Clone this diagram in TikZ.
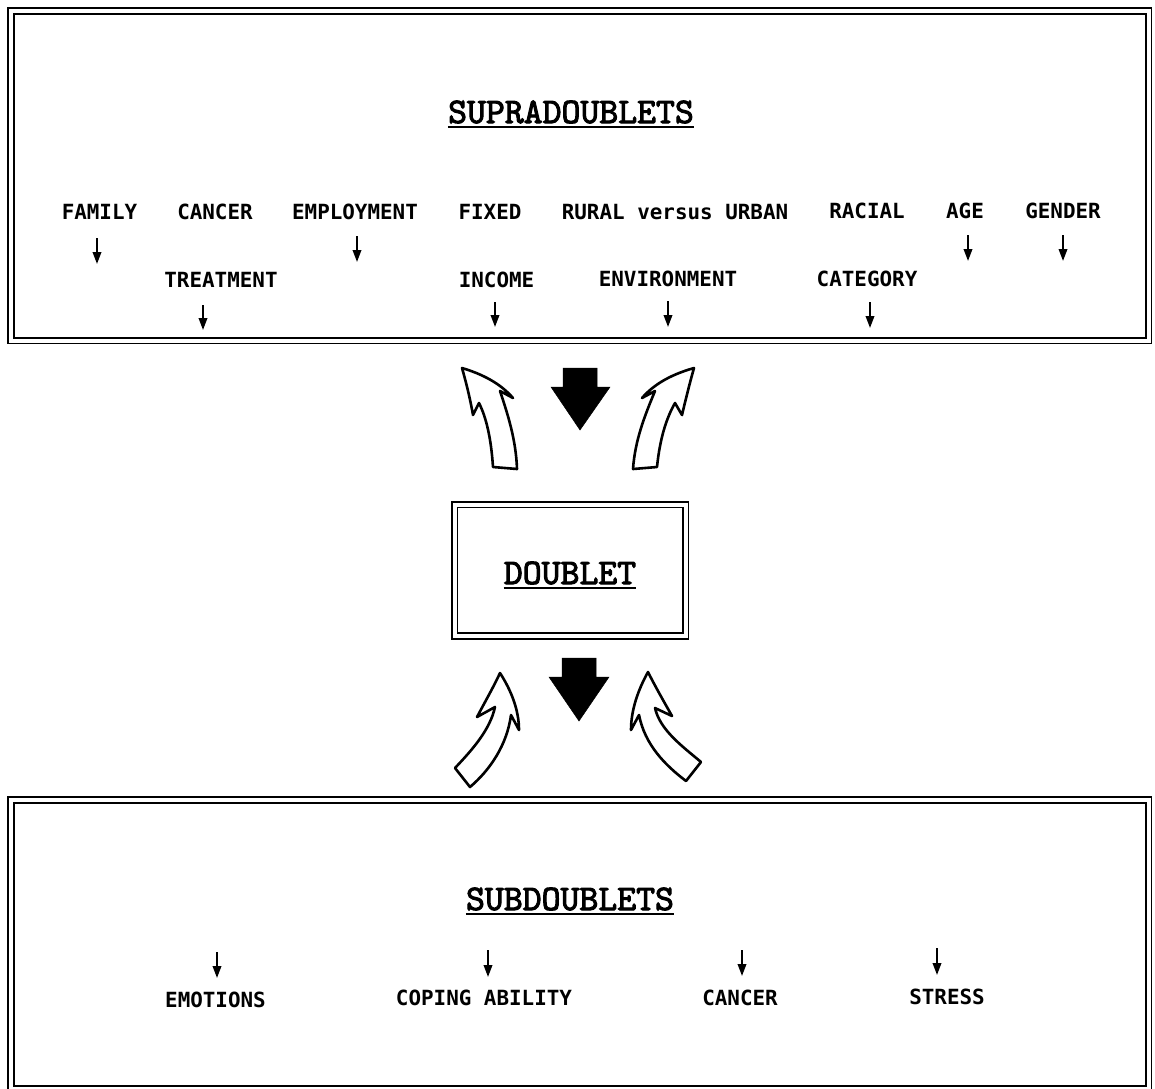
\documentclass[tikz,border=0pt]{standalone}
\usepackage{fontspec}
\usetikzlibrary{arrows.meta}
\newfontfamily\labfont{DejaVu Sans Mono}
\newfontfamily\ttlfont[FakeBold=2.8]{lmmono10-regular.otf}
\tikzset{
  lab/.style={font=\labfont\bfseries\fontsize{20.9}{24}\selectfont, inner sep=0pt},
  ttl/.style={font=\ttlfont\fontsize{36}{40}\selectfont, inner sep=0pt},
  dbox/.style={draw, double, double distance=4pt, line width=1.7pt, inner sep=0pt},
  sarr/.style={line width=2pt, -{Triangle[length=12pt,width=8.5pt]}},
  ul/.style={line width=2.2pt},
  bigarr/.style={fill=black, draw=black, line width=0.5pt, line join=miter},
  hollow/.style={draw=black, fill=white, line width=2.6pt, line join=round}
}
\begin{document}
\begin{tikzpicture}[x=1pt, y=-1pt]
\fill[white] (0,0) rectangle (1155,1088);
\useasboundingbox (0,0) rectangle (1155,1088);

% boxes
\node[dbox, minimum width=1137.5pt, minimum height=329.5pt] (top) at (579.75,175.75) {};
\node[dbox, minimum width=231pt, minimum height=131.5pt] (doublet) at (570,570.25) {};
\node[dbox, minimum width=1137.5pt, minimum height=289pt] (bottom) at (579.75,944.5) {};

% titles
\node[ttl] (supra) at (571,112) {SUPRADOUBLETS};
\draw[ul] ([yshift=-3.5pt]supra.south west) -- ([yshift=-3.5pt]supra.south east);
\node[ttl] (dtext) at (570,573) {DOUBLET};
\draw[ul] ([yshift=-3.5pt]dtext.south west) -- ([yshift=-3.5pt]dtext.south east);
\node[ttl] (sub) at (570,899) {SUBDOUBLETS};
\draw[ul] ([yshift=-3.5pt]sub.south west) -- ([yshift=-3.5pt]sub.south east);

% supradoublet labels
\node[lab] (family)  at (99.5,212) {FAMILY};
\node[lab] (cancerT) at (215,212) {CANCER};
\node[lab] (employ)  at (355,212) {EMPLOYMENT};
\node[lab] (fixed)   at (490,212) {FIXED};
\node[lab] (rural)   at (675,212) {RURAL versus URBAN};
\node[lab] (racial)  at (867,211) {RACIAL};
\node[lab] (age)     at (965,211) {AGE};
\node[lab] (gender)  at (1063,211) {GENDER};
\node[lab] (treat)   at (221,280) {TREATMENT};
\node[lab] (income)  at (496.5,280) {INCOME};
\node[lab] (envir)   at (668,279) {ENVIRONMENT};
\node[lab] (categ)   at (867,279) {CATEGORY};

% subdoublet labels
\node[lab] (emot)    at (215.5,1000) {EMOTIONS};
\node[lab] (coping)  at (484,998) {COPING ABILITY};
\node[lab] (cancerB) at (740,998) {CANCER};
\node[lab] (stress)  at (947,997) {STRESS};

% small arrow end points
\coordinate (fa1) at (97,238);   \coordinate (fa2) at (97,264);
\coordinate (em1) at (357,236);  \coordinate (em2) at (357,262);
\coordinate (tr1) at (203,305);  \coordinate (tr2) at (203,330);
\coordinate (in1) at (495,302);  \coordinate (in2) at (495,327);
\coordinate (en1) at (668,301);  \coordinate (en2) at (668,327);
\coordinate (ca1) at (870,302);  \coordinate (ca2) at (870,328);
\coordinate (ag1) at (968,235);  \coordinate (ag2) at (968,261);
\coordinate (ge1) at (1063,235); \coordinate (ge2) at (1063,261);
\coordinate (eo1) at (217,952);  \coordinate (eo2) at (217,978);
\coordinate (co1) at (488,950);  \coordinate (co2) at (488,977);
\coordinate (cb1) at (742,950);  \coordinate (cb2) at (742,976);
\coordinate (st1) at (937,948);  \coordinate (st2) at (937,975);

\foreach \a in {fa,em,tr,in,en,ca,ag,ge,eo,co,cb,st}
  \draw[sarr] (\a1) -- (\a2);

% big black arrows
\draw[bigarr] (563,368) -- (597,368) -- (597,387) -- (610,387) -- (580,430) -- (551,387) -- (563,387) -- cycle;
\draw[bigarr] (562,658) -- (596,658) -- (596,677) -- (609,677) -- (579,721) -- (549,677) -- (562,677) -- cycle;

% hollow curved arrows (upper pair)
\draw[hollow] (493,467) .. controls (491,437) and (486,417) .. (479,403) -- (473,415)
  .. controls (470,398) and (466,382) .. (462,368)
  .. controls (482,374) and (500,383) .. (513,398) -- (500,391)
  .. controls (508,415) and (516,440) .. (517,469) -- cycle;
\draw[hollow] (657,467) .. controls (660,437) and (667,417) .. (675,403) -- (682,415)
  .. controls (686,398) and (690,382) .. (694,368)
  .. controls (673,374) and (655,383) .. (642,398) -- (655,391)
  .. controls (645,415) and (635,440) .. (633,469) -- cycle;

% hollow curved arrows (lower pair)
\draw[hollow] (455,768) .. controls (472,750) and (490,730) .. (495,707) -- (477,717)
  .. controls (486,700) and (494,686) .. (500,673)
  .. controls (511,690) and (519,710) .. (519,730) -- (511,715)
  .. controls (507,745) and (490,770) .. (470,787) -- cycle;
\draw[hollow] (701,762) .. controls (682,746) and (660,730) .. (655,708) -- (672,716)
  .. controls (663,700) and (655,686) .. (648,672)
  .. controls (638,690) and (631,710) .. (631,730) -- (639,715)
  .. controls (645,745) and (665,765) .. (686,781) -- cycle;
\end{tikzpicture}
\end{document}
